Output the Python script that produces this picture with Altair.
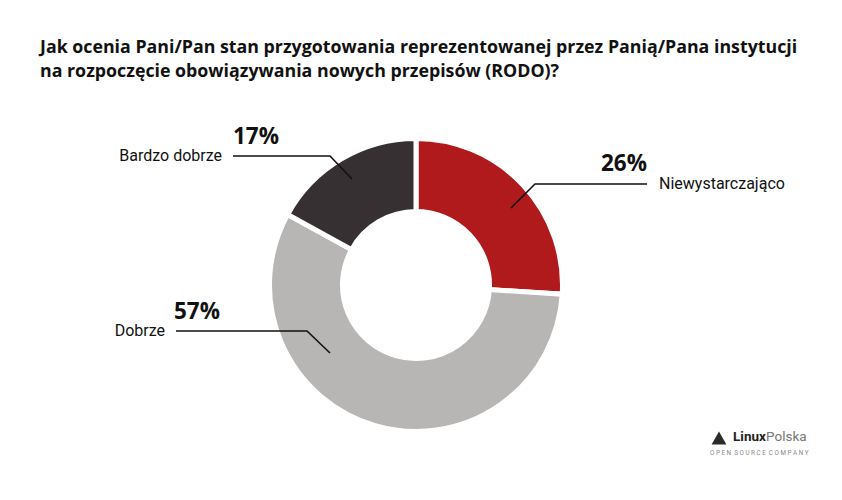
import altair as alt
import pandas as pd

# ---- data ----
categories = ["Niewystarczająco", "Dobrze", "Bardzo dobrze"]
values = [26, 57, 17]
colors = ["#b01a1c", "#b8b6b4", "#363032"]
title_lines = [
    "Jak ocenia Pani/Pan stan przygotowania reprezentowanej przez Panią/Pana instytucji",
    "na rozpoczęcie obowiązywania nowych przepisów (RODO)?",
]

# ---- layout (pixel positions of annotations) ----
cx, cy = 416, 285
leader_x = [[511, 535, 647], [176, 307, 330], [233, 330, 352]]
leader_y = [[208, 184, 184], [331, 331, 353], [156, 156, 179]]
name_pos = [(659, 184, "left"), (165, 331, "right"), (222, 156, "right")]
pct_pos = [(647, 164, "right"), (174, 312, "left"), (233, 137, "left")]

W, H = 842, 500

df = pd.DataFrame({"category": categories, "value": values, "order": list(range(len(values)))})

line_rows = []
for i, c in enumerate(categories):
    for j, (x, y) in enumerate(zip(leader_x[i], leader_y[i])):
        line_rows.append({"category": c, "x": x, "y": y, "k": j})
lines_df = pd.DataFrame(line_rows)

name_df = pd.DataFrame({
    "text": categories,
    "x": [p[0] for p in name_pos],
    "y": [p[1] for p in name_pos],
    "align": [p[2] for p in name_pos],
})
pct_df = pd.DataFrame({
    "text": [f"{v}%" for v in values],
    "x": [p[0] for p in pct_pos],
    "y": [p[1] for p in pct_pos],
    "align": [p[2] for p in pct_pos],
})

xs = alt.Scale(domain=[0, W], range=[0, W])
ys = alt.Scale(domain=[0, H], range=[0, H])

donut = alt.Chart(df).mark_arc(
    innerRadius=73.5, outerRadius=146.5, stroke="white", strokeWidth=5
).encode(
    theta=alt.Theta("value:Q", stack=True),
    color=alt.Color("category:N", scale=alt.Scale(domain=categories, range=colors), legend=None),
    order=alt.Order("order:Q"),
    x=alt.value(cx),
    y=alt.value(cy),
)

leaders = alt.Chart(lines_df).mark_line(color="#111111", strokeWidth=1.6).encode(
    x=alt.X("x:Q", scale=xs, axis=None),
    y=alt.Y("y:Q", scale=ys, axis=None),
    detail="category:N",
    order="k:Q",
)

def text_layer(d, align, **kw):
    return alt.Chart(d[d["align"] == align]).mark_text(align=align, baseline="middle", **kw).encode(
        x=alt.X("x:Q", scale=xs, axis=None),
        y=alt.Y("y:Q", scale=ys, axis=None),
        text="text:N",
    )

name_kw = dict(font="Roboto", fontSize=16, color="#111111")
pct_kw = dict(font="Open Sans", fontSize=22.5, fontWeight="bold", color="#111111")
names = text_layer(name_df, "left", **name_kw) + text_layer(name_df, "right", **name_kw)
pcts = text_layer(pct_df, "left", **pct_kw) + text_layer(pct_df, "right", **pct_kw)

title_df = pd.DataFrame({"text": title_lines, "x": [40, 40], "y": [48, 72]})
title = alt.Chart(title_df).mark_text(
    align="left", baseline="middle", font="Open Sans", fontSize=17.8, fontWeight="bold", color="#111111"
).encode(
    x=alt.X("x:Q", scale=xs, axis=None),
    y=alt.Y("y:Q", scale=ys, axis=None),
    text="text:N",
)

nb = "\u00a0"
logo_df = pd.DataFrame({
    "text": ["Linux", "Polska", (nb * 2).join(" ".join("OPEN SOURCE COMPANY").split("   ")).replace(" ", nb)],
    "x": [733, 766, 710],
    "y": [437, 437, 453],
})
logo1 = alt.Chart(logo_df.iloc[[0]]).mark_text(
    align="left", baseline="middle", font="Roboto", fontSize=13.5, fontWeight="bold", color="#222222"
).encode(x=alt.X("x:Q", scale=xs, axis=None), y=alt.Y("y:Q", scale=ys, axis=None), text="text:N")
logo2 = alt.Chart(logo_df.iloc[[1]]).mark_text(
    align="left", baseline="middle", font="Roboto", fontSize=13.5, color="#777777"
).encode(x=alt.X("x:Q", scale=xs, axis=None), y=alt.Y("y:Q", scale=ys, axis=None), text="text:N")
logo3 = alt.Chart(logo_df.iloc[[2]]).mark_text(
    align="left", baseline="middle", font="Roboto", fontSize=6.3, color="#888888"
).encode(x=alt.X("x:Q", scale=xs, axis=None), y=alt.Y("y:Q", scale=ys, axis=None), text="text:N")
icon_df = pd.DataFrame({"x": [719], "y": [438]})
icon = alt.Chart(icon_df).mark_point(shape="triangle-up", filled=True, size=220, color="#2a2a2a", opacity=1).encode(
    x=alt.X("x:Q", scale=xs, axis=None), y=alt.Y("y:Q", scale=ys, axis=None)
)

chart = alt.layer(donut, leaders, names, pcts, title, icon, logo1, logo2, logo3).properties(
    width=W, height=H, padding=0, autosize=alt.AutoSizeParams(type="none"), background="white"
).configure_view(stroke=None)

chart.save("out.html", embed_options={"renderer": "svg", "actions": False})
